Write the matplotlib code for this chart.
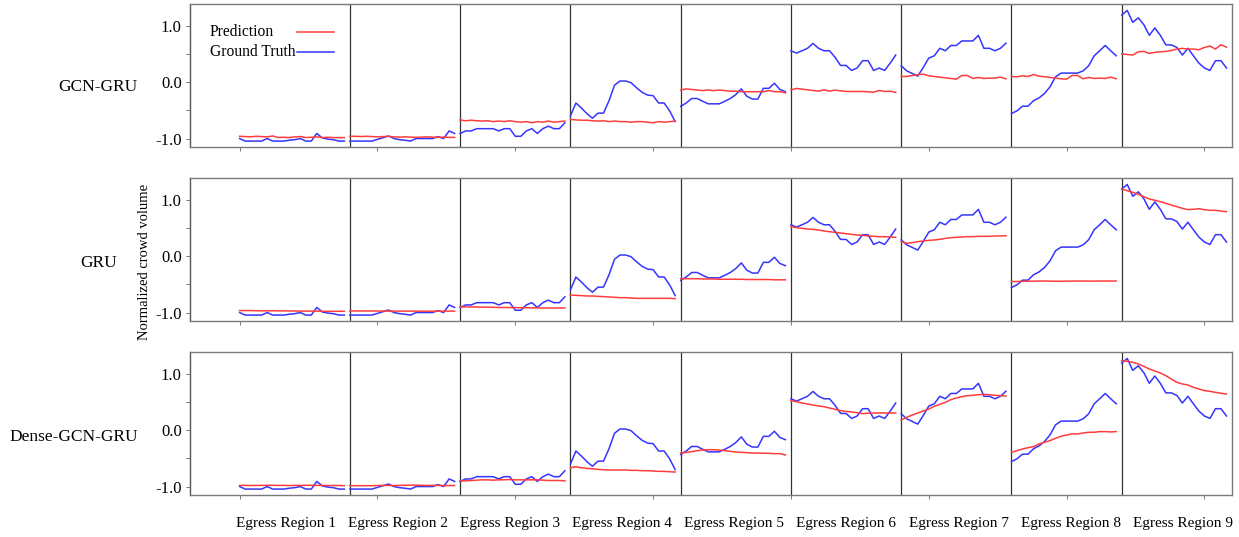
import numpy as np
import matplotlib
matplotlib.use("Agg")
import matplotlib.pyplot as plt
from matplotlib.lines import Line2D
from matplotlib.ticker import FixedLocator, NullFormatter

plt.rcParams['font.family'] = ['Liberation Serif', 'DejaVu Serif']

regions = [f"Egress Region {i}" for i in range(1, 10)]
models = ["GCN-GRU", "GRU", "Dense-GCN-GRU"]
legend_labels = ["Prediction", "Ground Truth"]

ground_truth = [
    [-1.0, -1.045, -1.045, -1.045, -1.045, -1.0, -1.045, -1.045, -1.045, -1.03, -1.02, -1.0, -1.045, -1.045, -0.91, -0.99, -1.01, -1.02, -1.045, -1.045],
    [-1.045, -1.045, -1.045, -1.045, -1.045, -1.015, -0.985, -0.955, -1.0, -1.02, -1.03, -1.045, -1.0, -1.0, -1.0, -1.0, -0.965, -1.0, -0.865, -0.91],
    [-0.91, -0.865, -0.865, -0.825, -0.825, -0.825, -0.825, -0.865, -0.825, -0.825, -0.96, -0.96, -0.865, -0.825, -0.91, -0.825, -0.78, -0.825, -0.825, -0.72],
    [-0.60, -0.37, -0.46, -0.56, -0.64, -0.55, -0.55, -0.33, -0.055, 0.02, 0.02, -0.01, -0.10, -0.18, -0.23, -0.24, -0.37, -0.37, -0.51, -0.70],
    [-0.43, -0.37, -0.29, -0.29, -0.34, -0.385, -0.385, -0.385, -0.34, -0.29, -0.22, -0.12, -0.25, -0.30, -0.30, -0.11, -0.11, -0.02, -0.13, -0.17],
    [0.556, 0.515, 0.556, 0.60, 0.686, 0.60, 0.556, 0.556, 0.44, 0.296, 0.296, 0.207, 0.25, 0.38, 0.38, 0.207, 0.25, 0.207, 0.337, 0.48],
    [0.29, 0.20, 0.154, 0.107, 0.26, 0.426, 0.467, 0.60, 0.556, 0.65, 0.65, 0.73, 0.73, 0.73, 0.83, 0.60, 0.60, 0.556, 0.60, 0.69],
    [-0.556, -0.509, -0.426, -0.426, -0.33, -0.28, -0.20, -0.083, 0.095, 0.16, 0.16, 0.16, 0.16, 0.20, 0.29, 0.467, 0.556, 0.65, 0.556, 0.467],
    [1.19, 1.27, 1.06, 1.14, 1.02, 0.83, 0.96, 0.83, 0.66, 0.66, 0.615, 0.48, 0.60, 0.467, 0.337, 0.25, 0.207, 0.38, 0.38, 0.25],
]

pred_gcn_gru = [
    [-0.96, -0.965, -0.97, -0.96, -0.965, -0.97, -0.955, -0.983, -0.977, -0.983, -0.97, -0.965, -0.983, -0.977, -0.97, -0.983, -0.977, -0.983, -0.983, -0.983],
    [-0.96, -0.96, -0.965, -0.96, -0.965, -0.97, -0.965, -0.96, -0.97, -0.975, -0.97, -0.975, -0.98, -0.975, -0.97, -0.975, -0.98, -0.975, -0.98, -0.98],
    [-0.67, -0.685, -0.675, -0.685, -0.69, -0.685, -0.70, -0.69, -0.70, -0.685, -0.70, -0.71, -0.70, -0.72, -0.70, -0.71, -0.69, -0.71, -0.70, -0.69],
    [-0.66, -0.67, -0.675, -0.675, -0.685, -0.69, -0.685, -0.70, -0.69, -0.70, -0.70, -0.71, -0.70, -0.70, -0.71, -0.72, -0.70, -0.71, -0.70, -0.69],
    [-0.14, -0.12, -0.13, -0.14, -0.15, -0.14, -0.15, -0.14, -0.15, -0.16, -0.16, -0.17, -0.17, -0.17, -0.17, -0.17, -0.15, -0.17, -0.17, -0.19],
    [-0.136, -0.112, -0.124, -0.136, -0.148, -0.16, -0.136, -0.16, -0.142, -0.154, -0.166, -0.166, -0.166, -0.166, -0.172, -0.178, -0.148, -0.166, -0.16, -0.183],
    [0.10, 0.10, 0.118, 0.13, 0.142, 0.112, 0.10, 0.088, 0.077, 0.065, 0.053, 0.118, 0.118, 0.065, 0.083, 0.065, 0.071, 0.071, 0.088, 0.059],
    [0.10, 0.095, 0.112, 0.10, 0.136, 0.106, 0.095, 0.083, 0.071, 0.059, 0.053, 0.118, 0.118, 0.059, 0.083, 0.065, 0.071, 0.065, 0.088, 0.059],
    [0.497, 0.49, 0.48, 0.538, 0.544, 0.509, 0.527, 0.538, 0.544, 0.562, 0.586, 0.598, 0.586, 0.586, 0.574, 0.615, 0.64, 0.586, 0.663, 0.62],
]

pred_gru = [
    [-0.965, -0.965, -0.965, -0.968, -0.97, -0.97, -0.968, -0.97, -0.97, -0.972, -0.972, -0.975, -0.975, -0.975, -0.975, -0.978, -0.978, -0.978, -0.978, -0.978],
    [-0.972, -0.972, -0.972, -0.973, -0.973, -0.973, -0.974, -0.974, -0.974, -0.975, -0.975, -0.975, -0.975, -0.976, -0.976, -0.976, -0.975, -0.975, -0.975, -0.975],
    [-0.90, -0.90, -0.90, -0.902, -0.905, -0.905, -0.907, -0.91, -0.91, -0.912, -0.912, -0.915, -0.915, -0.917, -0.917, -0.92, -0.92, -0.92, -0.918, -0.918],
    [-0.69, -0.695, -0.70, -0.707, -0.707, -0.713, -0.718, -0.724, -0.73, -0.736, -0.736, -0.742, -0.748, -0.748, -0.748, -0.748, -0.748, -0.748, -0.748, -0.754],
    [-0.40, -0.40, -0.40, -0.40, -0.405, -0.405, -0.405, -0.41, -0.41, -0.41, -0.41, -0.41, -0.415, -0.415, -0.415, -0.415, -0.415, -0.42, -0.42, -0.42],
    [0.522, 0.504, 0.493, 0.481, 0.475, 0.463, 0.445, 0.433, 0.422, 0.41, 0.398, 0.386, 0.374, 0.369, 0.357, 0.351, 0.345, 0.345, 0.339, 0.333],
    [0.256, 0.227, 0.239, 0.256, 0.268, 0.28, 0.286, 0.298, 0.315, 0.327, 0.333, 0.339, 0.345, 0.345, 0.351, 0.351, 0.351, 0.357, 0.357, 0.363],
    [-0.45, -0.45, -0.447, -0.445, -0.443, -0.441, -0.441, -0.443, -0.445, -0.445, -0.443, -0.443, -0.441, -0.441, -0.443, -0.443, -0.441, -0.441, -0.441, -0.441],
    [1.19, 1.16, 1.131, 1.096, 1.054, 1.013, 0.99, 0.965, 0.936, 0.906, 0.877, 0.847, 0.824, 0.83, 0.841, 0.824, 0.812, 0.812, 0.80, 0.788],
]

pred_dense_gcn_gru = [
    [-0.98, -0.98, -0.982, -0.98, -0.98, -0.978, -0.978, -0.98, -0.98, -0.982, -0.98, -0.98, -0.978, -0.978, -0.98, -0.98, -0.982, -0.982, -0.982, -0.985],
    [-0.985, -0.985, -0.985, -0.985, -0.985, -0.982, -0.98, -0.98, -0.982, -0.98, -0.978, -0.975, -0.975, -0.978, -0.98, -0.98, -0.98, -0.982, -0.982, -0.982],
    [-0.90, -0.90, -0.893, -0.887, -0.881, -0.881, -0.887, -0.881, -0.881, -0.875, -0.881, -0.881, -0.881, -0.881, -0.881, -0.887, -0.893, -0.893, -0.893, -0.90],
    [-0.667, -0.649, -0.667, -0.678, -0.684, -0.696, -0.702, -0.707, -0.707, -0.707, -0.707, -0.713, -0.713, -0.719, -0.719, -0.725, -0.731, -0.731, -0.737, -0.743],
    [-0.406, -0.394, -0.382, -0.364, -0.352, -0.347, -0.347, -0.352, -0.364, -0.376, -0.388, -0.394, -0.40, -0.406, -0.406, -0.411, -0.411, -0.417, -0.417, -0.441],
    [0.522, 0.504, 0.481, 0.463, 0.445, 0.428, 0.416, 0.392, 0.369, 0.345, 0.333, 0.321, 0.309, 0.292, 0.298, 0.304, 0.304, 0.304, 0.304, 0.304],
    [0.179, 0.227, 0.268, 0.304, 0.339, 0.374, 0.422, 0.457, 0.493, 0.54, 0.57, 0.593, 0.611, 0.617, 0.628, 0.634, 0.628, 0.617, 0.611, 0.605],
    [-0.394, -0.364, -0.335, -0.311, -0.293, -0.245, -0.215, -0.186, -0.144, -0.109, -0.085, -0.068, -0.068, -0.05, -0.038, -0.038, -0.026, -0.026, -0.032, -0.026],
    [1.231, 1.219, 1.202, 1.172, 1.131, 1.084, 1.048, 1.013, 0.965, 0.906, 0.847, 0.818, 0.80, 0.759, 0.729, 0.70, 0.688, 0.67, 0.653, 0.641],
]

predictions = [pred_gcn_gru, pred_gru, pred_dense_gcn_gru]

RED = '#ff3c3c'
BLUE = '#3535ff'
W, H = 1239, 537
fig = plt.figure(figsize=(W / 100, H / 100), dpi=100)

region_span = 40
step = 2
left_px, right_px = 190, 1232
row_tops = [4, 178, 352]
row_h = 143
row_label_pos = [(97.5, 87), (99, 263), (73.5, 437)]

for r, (model, preds) in enumerate(zip(models, predictions)):
    ax = fig.add_axes([left_px / W, 1 - (row_tops[r] + row_h) / H,
                       (right_px - left_px) / W, row_h / H])
    for k in range(len(regions)):
        gt = ground_truth[k]
        xs = k * region_span + step * np.arange(len(gt))
        ax.plot(xs, gt, color=BLUE, lw=1.1, zorder=3)
        ax.plot(xs, preds[k], color=RED, lw=1.1, zorder=3)
    for k in range(1, len(regions)):
        ax.axvline(k * region_span, color='#333333', lw=0.9, zorder=2)
    ax.set_xlim(-18, 360)
    ax.set_ylim(-1.15, 1.385)
    ax.set_xticks(np.arange(0, 360, 50))
    ax.set_xticklabels([])
    ax.set_yticks([-1.0, 0.0, 1.0])
    ax.set_yticklabels(['-1.0', '0.0', '1.0'])
    ax.yaxis.set_minor_locator(FixedLocator([-0.5, 0.5]))
    ax.yaxis.set_minor_formatter(NullFormatter())
    ax.tick_params(axis='both', which='both', direction='out', length=3,
                   width=0.7, color='#777777', labelsize=12, pad=3)
    for s in ax.spines.values():
        s.set_color('#7a7a7a')
        s.set_linewidth(1.0)
    ax.spines['left'].set_color('#555555')
    fig.text(row_label_pos[r][0] / W, 1 - row_label_pos[r][1] / H, model,
             ha='center', va='center', fontsize=12.5)

# legend: text left-aligned, line sample to the right
for i, (lab, col) in enumerate(zip(legend_labels, [RED, BLUE])):
    ypx = 32 + 20 * i
    fig.text(210 / W, 1 - ypx / H, lab, ha='left', va='center', fontsize=11.2)
    fig.add_artist(Line2D([297 / W, 334 / W], [1 - ypx / H, 1 - ypx / H],
                          transform=fig.transFigure, color=col, lw=1.1))

for k, name in enumerate(regions):
    cx = 286 + 112.1 * k
    fig.text(cx / W, 1 - 523 / H, name, ha='center', va='center', fontsize=11)

fig.text(145 / W, 1 - 262 / H, 'Normalized crowd volume', rotation=90,
         ha='center', va='center', fontsize=10.5)

fig.savefig('out.png', dpi=100)
